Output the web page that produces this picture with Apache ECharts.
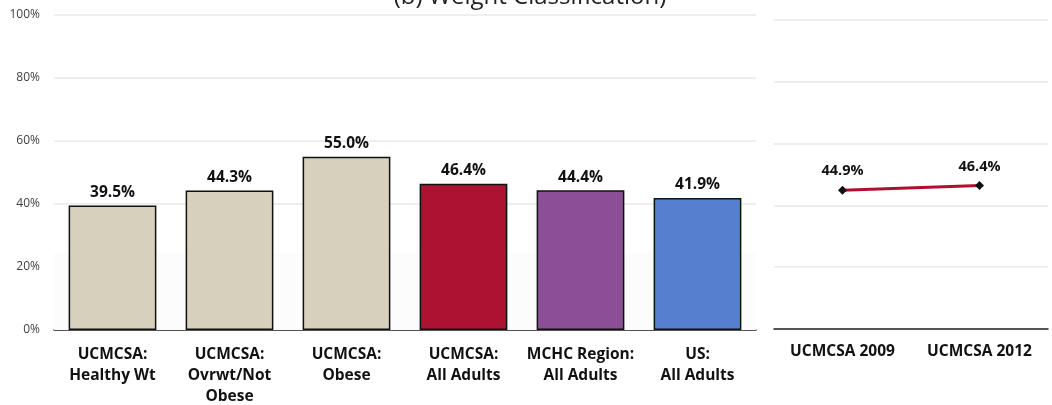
<!DOCTYPE html>
<html><head><meta charset="utf-8">
<script src="https://cdn.jsdelivr.net/npm/echarts@6/dist/echarts.min.js"></script>
<style>html,body{margin:0;padding:0;background:#fff}#c{width:1052px;height:405px}</style>
</head><body><div id="c"></div>
<script>
const titleText = '(b) Weight Classification)';
const barCategories = ['UCMCSA:\nHealthy Wt', 'UCMCSA:\nOvrwt/Not\nObese', 'UCMCSA:\nObese', 'UCMCSA:\nAll Adults', 'MCHC Region:\nAll Adults', 'US:\nAll Adults'];
const barValues = [39.5, 44.3, 55.0, 46.4, 44.4, 41.9];
const barColors = ['#d6d0bc', '#d6d0bc', '#d6d0bc', '#ae1232', '#8c4f97', '#5680cf'];
const lineCategories = ['UCMCSA 2009', 'UCMCSA 2012'];
const lineValues = [44.9, 46.4];
const yTicks = [0, 20, 40, 60, 80, 100];

const font = '"Open Sans", "DejaVu Sans", sans-serif';
const chart = echarts.init(document.getElementById('c'), null, {renderer: 'canvas'});
chart.setOption({
  animation: false,
  backgroundColor: '#fff',
  title: {text: titleText, left: 525, textAlign: 'center', top: -20,
    textStyle: {fontFamily: font, fontSize: 24, fontWeight: 'normal', color: '#222'}},
  grid: [
    {left: 54, right: 296, top: 15, bottom: 75, outerBoundsMode: 'none', containLabel: false},
    {left: 774, right: 4, top: 20, bottom: 76, outerBoundsMode: 'none', containLabel: false}
  ],
  xAxis: [
    {gridIndex: 0, type: 'category', data: barCategories,
      axisLine: {lineStyle: {color: '#222', width: 1.5}}, axisTick: {show: false},
      axisLabel: {interval: 0, margin: 14, fontFamily: font, fontSize: 15.5, fontWeight: 'bold', color: '#111', lineHeight: 21}},
    {gridIndex: 1, type: 'category', data: lineCategories,
      axisLine: {lineStyle: {color: '#222', width: 1.5}}, axisTick: {show: false},
      axisLabel: {interval: 0, margin: 15, fontFamily: font, fontSize: 15.5, fontWeight: 'bold', color: '#111'}}
  ],
  yAxis: [
    {gridIndex: 0, type: 'value', min: yTicks[0], max: yTicks[yTicks.length-1], interval: 20,
      axisLine: {show: false}, axisTick: {show: false},
      splitLine: {lineStyle: {color: '#e8e8e8', width: 1.5}},
      axisLabel: {formatter: v => v + '%', margin: 14, fontFamily: font, fontSize: 12, color: '#404040'}},
    {gridIndex: 1, type: 'value', min: yTicks[0], max: yTicks[yTicks.length-1], interval: 20,
      axisLine: {show: false}, axisTick: {show: false},
      splitLine: {lineStyle: {color: '#e8e8e8', width: 1.5}},
      axisLabel: {show: false}}
  ],
  series: [
    {type: 'bar', xAxisIndex: 0, yAxisIndex: 0, barWidth: '75%',
      data: barValues.map((v, i) => ({value: v, itemStyle: {color: barColors[i]}})),
      itemStyle: {borderColor: '#111', borderWidth: 1.5},
      label: {show: true, position: 'top', distance: 5, formatter: p => p.value.toFixed(1) + '%',
        fontFamily: font, fontSize: 15.5, fontWeight: 'bold', color: '#111'},
      markArea: {silent: true, itemStyle: {color: '#fcfcfc'}, data: [[{yAxis: 0}, {yAxis: 24.4}]]},
      z: 3},
    {type: 'line', xAxisIndex: 1, yAxisIndex: 1, data: lineValues,
      lineStyle: {color: '#b0102f', width: 3}, symbol: 'diamond', symbolSize: 9,
      itemStyle: {color: '#111'},
      label: {show: true, position: 'top', distance: 7, formatter: p => p.value.toFixed(1) + '%',
        fontFamily: font, fontSize: 14.5, fontWeight: 'bold', color: '#111'}}
  ]
});
</script></body></html>
